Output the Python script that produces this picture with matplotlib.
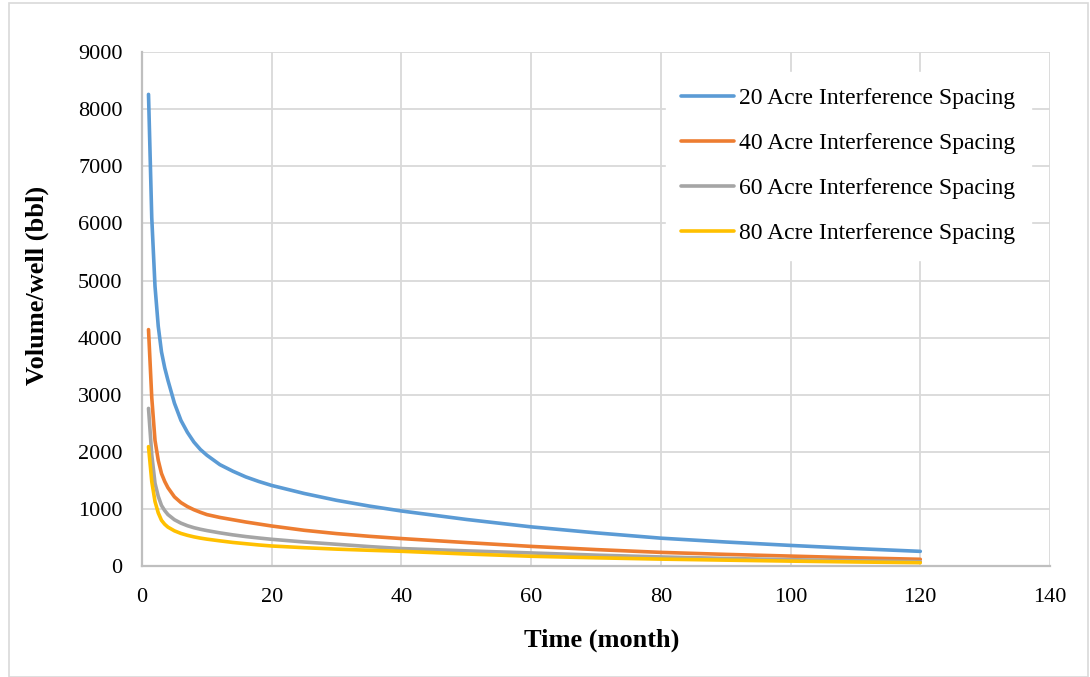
import matplotlib
matplotlib.use("Agg")
import matplotlib.pyplot as plt
from matplotlib.patches import Rectangle

months = [1, 1.5, 2, 2.5, 3, 3.5, 4, 5, 6, 7, 8, 9, 10, 12, 14, 16, 18, 20, 25, 30, 35, 40,
          50, 60, 70, 80, 90, 100, 110, 120]

acre20 = [8260, 6100, 4900, 4200, 3750, 3470, 3250, 2850, 2550, 2340, 2170, 2040, 1940,
          1775, 1660, 1560, 1480, 1410, 1270, 1150, 1050, 963, 815, 685, 580, 487, 420,
          360, 305, 256]
acre40 = [4140, 2950, 2200, 1850, 1620, 1480, 1370, 1210, 1110, 1040, 985, 940, 900,
          850, 810, 770, 735, 700, 625, 567, 520, 480, 410, 343, 287, 238, 203,
          173, 143, 117]
acre60 = [2760, 1950, 1450, 1220, 1060, 970, 900, 810, 750, 705, 670, 643, 620,
          580, 545, 515, 490, 467, 420, 380, 340, 305, 265, 228, 190, 158, 132,
          110, 92, 75]
acre80 = [2090, 1480, 1130, 930, 800, 730, 680, 615, 570, 537, 510, 488, 470,
          440, 412, 390, 368, 350, 320, 295, 275, 257, 210, 170, 143, 120, 102,
          85, 70, 57]

labels = ["20 Acre Interference Spacing", "40 Acre Interference Spacing",
          "60 Acre Interference Spacing", "80 Acre Interference Spacing"]
colors = ["#5B9BD5", "#ED7D31", "#A5A5A5", "#FFC000"]

plt.rcParams['font.family'] = ['Liberation Serif', 'DejaVu Serif']

fig = plt.figure(figsize=(10.9, 6.77), dpi=100)
ax = fig.add_axes([0.1303, 0.164, 0.833, 0.759])

for ys, lab, c in zip([acre20, acre40, acre60, acre80], labels, colors):
    ax.plot(months, ys, color=c, lw=2.6, label=lab, solid_capstyle='round',
            solid_joinstyle='round')

ax.set_xlim(0, 140)
ax.set_ylim(0, 9000)
ax.set_xticks(range(0, 141, 20))
ax.set_yticks(range(0, 9001, 1000))
ax.grid(True, color="#d9d9d9", lw=1.3)
ax.set_axisbelow(True)
for s in ["top", "right"]:
    ax.spines[s].set_visible(False)
for s in ["left", "bottom"]:
    ax.spines[s].set_color("#bfbfbf")
    ax.spines[s].set_linewidth(1.6)
ax.tick_params(length=0, labelsize=16)
ax.tick_params(axis="x", pad=16)
ax.tick_params(axis="y", pad=14)

ax.set_xlabel("Time (month)", fontsize=19, fontweight="bold")
ax.set_ylabel("Volume/well (bbl)", fontsize=19, fontweight="bold")
ax.xaxis.set_label_coords(0.5066, -0.122)
ax.yaxis.set_label_coords(-0.103, 0.545)

leg = ax.legend(loc="upper left", bbox_to_anchor=(0.611, 0.8936),
                bbox_transform=fig.transFigure, borderaxespad=0, fontsize=17,
                frameon=True, fancybox=False, handlelength=2.25, handletextpad=0.2,
                labelspacing=1.0, borderpad=0.65)
leg.get_frame().set_edgecolor("white")
leg.get_frame().set_alpha(1)

fig.patches.append(Rectangle((0.008, 0.0), 0.99, 0.995, transform=fig.transFigure,
                             fill=False, edgecolor="#d9d9d9", lw=1.2))

fig.savefig("out.png", dpi=100)
